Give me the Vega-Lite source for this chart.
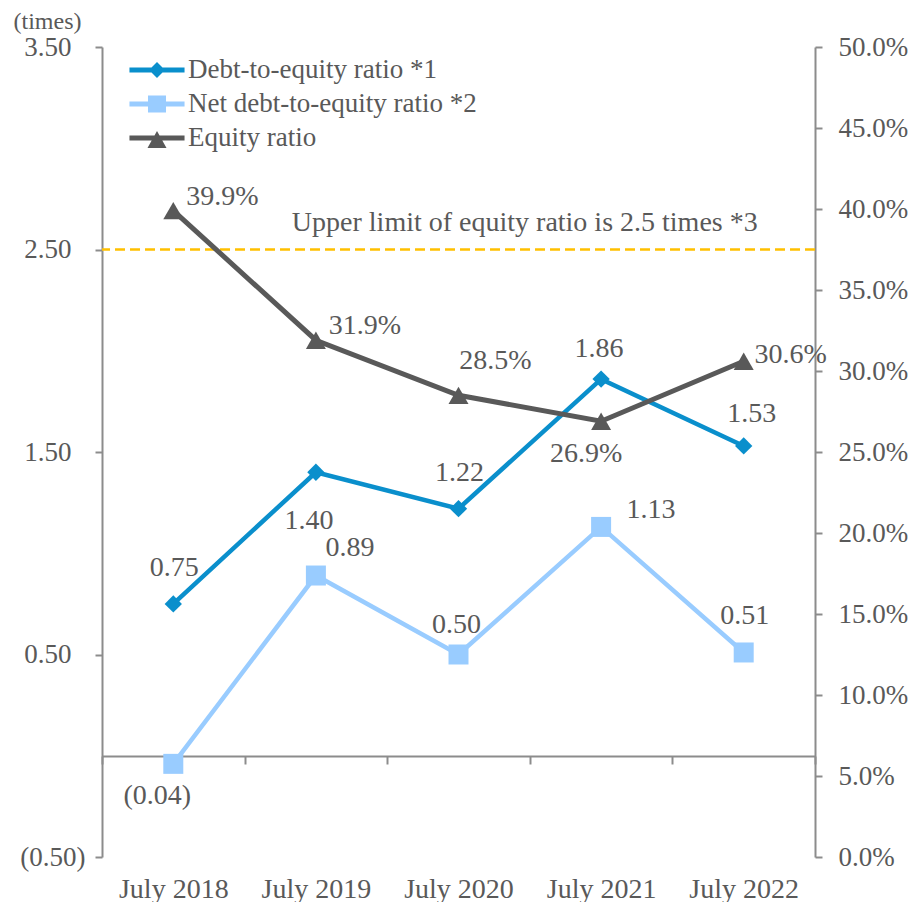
{
  "$schema": "https://vega.github.io/schema/vega-lite/v6.json",
  "width": 713,
  "height": 810,
  "autosize": {"type": "none"},
  "padding": {"left": 102, "top": 47, "right": 96, "bottom": 45},
  "background": "#ffffff",
  "config": {
    "view": {"stroke": null},
    "font": "Liberation Serif",
    "axis": {
      "grid": false,
      "domainColor": "#8c8c8c",
      "domainWidth": 2,
      "tickColor": "#8c8c8c",
      "tickWidth": 2,
      "labelColor": "#595959",
      "labelFont": "Liberation Serif",
      "labelFontSize": 27,
      "titleFont": "Liberation Serif",
      "titleColor": "#595959",
      "titleFontWeight": "normal"
    },
    "text": {"font": "Liberation Serif", "fontSize": 28, "color": "#595959", "baseline": "middle"}
  },
  "datasets": {
    "ratios": [
      {"year": "July 2018", "series": "Debt-to-equity ratio *1", "value": 0.75},
      {"year": "July 2019", "series": "Debt-to-equity ratio *1", "value": 1.40},
      {"year": "July 2020", "series": "Debt-to-equity ratio *1", "value": 1.22},
      {"year": "July 2021", "series": "Debt-to-equity ratio *1", "value": 1.86},
      {"year": "July 2022", "series": "Debt-to-equity ratio *1", "value": 1.53},
      {"year": "July 2018", "series": "Net debt-to-equity ratio *2", "value": -0.04},
      {"year": "July 2019", "series": "Net debt-to-equity ratio *2", "value": 0.89},
      {"year": "July 2020", "series": "Net debt-to-equity ratio *2", "value": 0.50},
      {"year": "July 2021", "series": "Net debt-to-equity ratio *2", "value": 1.13},
      {"year": "July 2022", "series": "Net debt-to-equity ratio *2", "value": 0.51},
      {"year": "July 2018", "series": "Equity ratio", "value": 0.399},
      {"year": "July 2019", "series": "Equity ratio", "value": 0.319},
      {"year": "July 2020", "series": "Equity ratio", "value": 0.285},
      {"year": "July 2021", "series": "Equity ratio", "value": 0.269},
      {"year": "July 2022", "series": "Equity ratio", "value": 0.306}
    ],
    "limit": [
      {"limit": 2.5, "note": "Upper limit of equity ratio is 2.5 times *3"}
    ]
  },
  "data": {"name": "ratios"},
  "layer": [
    {
      "encoding": {
        "y": {
          "field": "value",
          "type": "quantitative",
          "scale": {"domain": [-0.5, 3.5], "nice": false, "zero": false},
          "axis": {
            "orient": "left",
            "values": [-0.5, 0.5, 1.5, 2.5, 3.5],
            "format": "(.2f",
            "tickSize": 7,
            "labelPadding": {"condition": {"test": "datum.value < 0", "value": 10}, "value": 24},
            "title": "(times)",
            "titleAngle": 0,
            "titleX": -55,
            "titleY": -26,
            "titleAlign": "center",
            "titleBaseline": "middle",
            "titleFontSize": 24
          }
        }
      },
      "layer": [
        {
          "data": {"name": "limit"},
          "mark": {"type": "rule", "color": "#ffc000", "strokeWidth": 2.5, "strokeDash": [10, 5]},
          "encoding": {"y": {"field": "limit", "type": "quantitative"}}
        },
        {
          "data": {"name": "limit"},
          "mark": {"type": "text", "align": "right", "dx": 14, "dy": -27},
          "encoding": {
            "x": {"datum": "July 2022"},
            "y": {"field": "limit", "type": "quantitative"},
            "text": {"field": "note"}
          }
        },
        {
          "transform": [{"filter": "datum.series !== 'Equity ratio'"}],
          "mark": {"type": "line", "strokeWidth": 4.5},
          "encoding": {
            "x": {
              "field": "year",
              "type": "ordinal",
              "sort": null,
              "scale": {
                "type": "band",
                "domain": ["July 2018", "July 2019", "July 2020", "July 2021", "July 2022"],
                "paddingInner": 0,
                "paddingOuter": 0
              },
              "axis": {
                "orient": "bottom",
                "offset": -101,
                "tickBand": "extent",
                "tickSize": 8,
                "labelPadding": 133,
                "labelBaseline": "alphabetic",
                "labelAlign": "center",
                "labelAngle": 0,
                "labelFontSize": 28,
                "title": null
              }
            },
            "color": {
              "field": "series",
              "type": "nominal",
              "scale": {
                "domain": ["Debt-to-equity ratio *1", "Net debt-to-equity ratio *2", "Equity ratio"],
                "range": ["#0a8fcc", "#99ccff", "#595959"]
              },
              "legend": {
                "orient": "none",
                "legendX": 38,
                "legendY": 6,
                "title": null,
                "padding": 0,
                "symbolSize": 1156,
                "symbolStrokeWidth": 0,
                "labelOffset": 14,
                "rowPadding": 4,
                "labelFont": "Liberation Serif",
                "labelFontSize": 27,
                "labelColor": "#595959",
                "labelLimit": 0,
                "encode": {
                  "symbols": {
                    "update": {
                      "shape": {"signal": "datum.value === 'Debt-to-equity ratio *1' ? 'M-1.62,-0.15H1.62V0.15H-1.62Z M0,-0.47L0.47,0L0,0.47L-0.47,0Z' : datum.value === 'Net debt-to-equity ratio *2' ? 'M-1.62,-0.15H1.62V0.15H-1.62Z M-0.53,-0.5H0.53V0.5H-0.53Z' : 'M-1.62,-0.15H1.62V0.15H-1.62Z M0,-0.41L0.56,0.59H-0.56Z'"},
                      "fill": {"scale": "color", "field": "value"},
                      "stroke": {"value": "transparent"},
                      "strokeWidth": {"value": 0},
                      "opacity": {"value": 1}
                    }
                  }
                }
              }
            }
          }
        },
        {
          "transform": [{"filter": "datum.series === 'Debt-to-equity ratio *1'"}],
          "mark": {"type": "point", "shape": "diamond", "filled": true, "size": 300, "opacity": 1, "color": "#0a8fcc"},
          "encoding": {"x": {"field": "year", "type": "ordinal", "sort": null}}
        },
        {
          "transform": [{"filter": "datum.series === 'Net debt-to-equity ratio *2'"}],
          "mark": {"type": "point", "shape": "square", "filled": true, "size": 400, "opacity": 1, "color": "#99ccff"},
          "encoding": {"x": {"field": "year", "type": "ordinal", "sort": null}}
        },
        {
          "transform": [{"filter": "(datum.series === 'Debt-to-equity ratio *1' && (datum.year === 'July 2018' || datum.year === 'July 2020')) || (datum.series === 'Net debt-to-equity ratio *2' && datum.year === 'July 2022')"}],
          "mark": {"type": "text", "dx": 1, "dy": -36},
          "encoding": {"x": {"field": "year", "type": "ordinal", "sort": null}, "text": {"field": "value", "type": "quantitative", "format": "(.2f"}}
        },
        {
          "transform": [{"filter": "(datum.series === 'Debt-to-equity ratio *1' && datum.year === 'July 2021') || (datum.series === 'Net debt-to-equity ratio *2' && datum.year === 'July 2020')"}],
          "mark": {"type": "text", "dx": -2, "dy": -30},
          "encoding": {"x": {"field": "year", "type": "ordinal", "sort": null}, "text": {"field": "value", "type": "quantitative", "format": "(.2f"}}
        },
        {
          "transform": [{"filter": "datum.series === 'Debt-to-equity ratio *1' && datum.year === 'July 2022'"}],
          "mark": {"type": "text", "dx": 8, "dy": -32},
          "encoding": {"x": {"field": "year", "type": "ordinal", "sort": null}, "text": {"field": "value", "type": "quantitative", "format": "(.2f"}}
        },
        {
          "transform": [{"filter": "datum.series === 'Debt-to-equity ratio *1' && datum.year === 'July 2019'"}],
          "mark": {"type": "text", "dx": -7, "dy": 49},
          "encoding": {"x": {"field": "year", "type": "ordinal", "sort": null}, "text": {"field": "value", "type": "quantitative", "format": "(.2f"}}
        },
        {
          "transform": [{"filter": "datum.series === 'Net debt-to-equity ratio *2' && datum.year === 'July 2018'"}],
          "mark": {"type": "text", "dx": -16, "dy": 32},
          "encoding": {"x": {"field": "year", "type": "ordinal", "sort": null}, "text": {"field": "value", "type": "quantitative", "format": "(.2f"}}
        },
        {
          "transform": [{"filter": "datum.series === 'Net debt-to-equity ratio *2' && datum.year === 'July 2019'"}],
          "mark": {"type": "text", "dx": 34, "dy": -28},
          "encoding": {"x": {"field": "year", "type": "ordinal", "sort": null}, "text": {"field": "value", "type": "quantitative", "format": "(.2f"}}
        },
        {
          "transform": [{"filter": "datum.series === 'Net debt-to-equity ratio *2' && datum.year === 'July 2021'"}],
          "mark": {"type": "text", "dx": 50, "dy": -17},
          "encoding": {"x": {"field": "year", "type": "ordinal", "sort": null}, "text": {"field": "value", "type": "quantitative", "format": "(.2f"}}
        }
      ]
    },
    {
      "transform": [{"filter": "datum.series === 'Equity ratio'"}],
      "encoding": {
        "x": {"field": "year", "type": "ordinal", "sort": null},
        "y": {
          "field": "value",
          "type": "quantitative",
          "scale": {"domain": [0, 0.5], "nice": false, "zero": false},
          "axis": {
            "orient": "right",
            "values": [0, 0.05, 0.1, 0.15, 0.2, 0.25, 0.3, 0.35, 0.4, 0.45, 0.5],
            "format": ".1%",
            "tickSize": 7,
            "labelPadding": 16,
            "title": null
          }
        }
      },
      "layer": [
        {"mark": {"type": "line", "strokeWidth": 5, "color": "#595959"}},
        {"mark": {"type": "point", "shape": "triangle-up", "filled": true, "size": 400, "opacity": 1, "color": "#595959"}},
        {
          "transform": [{"filter": "datum.year === 'July 2018' || datum.year === 'July 2019'"}],
          "mark": {"type": "text", "dx": 49, "dy": -14},
          "encoding": {"text": {"field": "value", "type": "quantitative", "format": ".1%"}}
        },
        {
          "transform": [{"filter": "datum.year === 'July 2020'"}],
          "mark": {"type": "text", "dx": 37, "dy": -34},
          "encoding": {"text": {"field": "value", "type": "quantitative", "format": ".1%"}}
        },
        {
          "transform": [{"filter": "datum.year === 'July 2021'"}],
          "mark": {"type": "text", "dx": -15, "dy": 33},
          "encoding": {"text": {"field": "value", "type": "quantitative", "format": ".1%"}}
        },
        {
          "transform": [{"filter": "datum.year === 'July 2022'"}],
          "mark": {"type": "text", "dx": 47, "dy": -6},
          "encoding": {"text": {"field": "value", "type": "quantitative", "format": ".1%"}}
        }
      ]
    }
  ],
  "resolve": {"scale": {"y": "independent"}}
}
